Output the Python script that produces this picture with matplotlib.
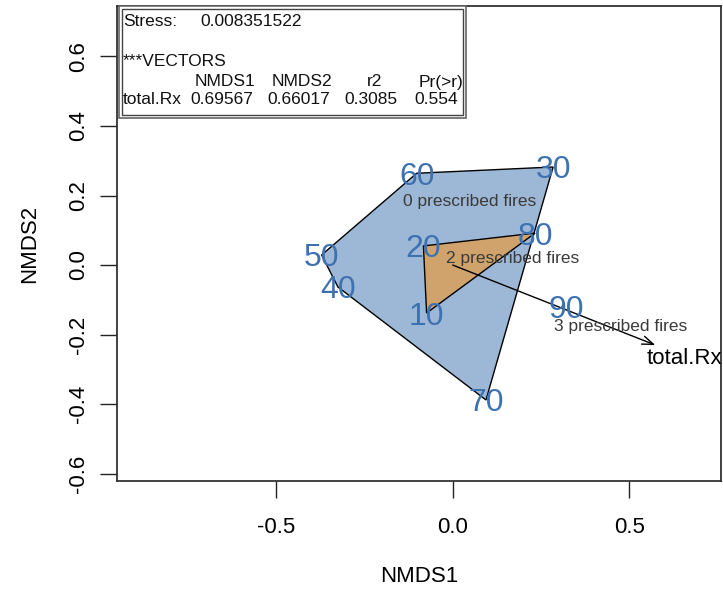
import numpy as np
import matplotlib.pyplot as plt
from matplotlib.patches import Polygon, Rectangle

plt.rcParams['font.family'] = ['Liberation Sans', 'DejaVu Sans']

# NMDS site scores
sites = ['10', '20', '30', '40', '50', '60', '70', '80', '90']
nmds1 = [-0.074, -0.083, 0.284, -0.325, -0.371, -0.102, 0.094, 0.233, 0.321]
nmds2 = [-0.138, 0.055, 0.282, -0.063, 0.029, 0.264, -0.388, 0.092, -0.118]
fires = [2, 2, 0, 0, 0, 0, 0, 2, 3]

# group label positions
group_names = ['0 prescribed fires', '2 prescribed fires', '3 prescribed fires']
group_x = [0.047, 0.168, 0.474]
group_y = [0.182, 0.019, -0.177]

# fitted vector
vec_name = 'total.Rx'
vec_end = (0.573, -0.230)
vec_label = (0.655, -0.268)

stress = '0.008351522'
vec_cols = ['NMDS1', 'NMDS2', 'r2', 'Pr(>r)']
vec_vals = ['0.69567', '0.66017', '0.3085', '0.554']


def hull(pts):
    pts = sorted(set(pts))
    if len(pts) < 3:
        return pts
    def cross(o, a, b):
        return (a[0] - o[0]) * (b[1] - o[1]) - (a[1] - o[1]) * (b[0] - o[0])
    lower, upper = [], []
    for p in pts:
        while len(lower) >= 2 and cross(lower[-2], lower[-1], p) <= 0:
            lower.pop()
        lower.append(p)
    for p in reversed(pts):
        while len(upper) >= 2 and cross(upper[-2], upper[-1], p) <= 0:
            upper.pop()
        upper.append(p)
    return lower[:-1] + upper[:-1]


W, H = 723, 593
fig = plt.figure(figsize=(W / 100, H / 100), dpi=100)
ax = fig.add_axes([117 / W, (H - 481) / H, 604 / W, 475 / H])
ax.set_xlim(-0.950, 0.759)
ax.set_ylim(-0.621, 0.745)

x = np.array(nmds1)
y = np.array(nmds2)
g = np.array(fires)

hull_cols = {0: '#9DB8D6', 2: '#CFA36B'}
for grp, col in hull_cols.items():
    pts = list(zip(x[g == grp], y[g == grp]))
    ax.add_patch(Polygon(hull(pts), closed=True, facecolor=col,
                         edgecolor='black', lw=1.0, zorder=1))

ax.annotate('', xy=vec_end, xytext=(0, 0),
            arrowprops=dict(arrowstyle='->,head_length=0.8,head_width=0.3',
                            color='black', lw=1.0, shrinkA=0, shrinkB=0),
            zorder=2)
ax.text(vec_label[0], vec_label[1], vec_name, fontsize=16, ha='center',
        va='center', color='black', clip_on=True, zorder=3)

for name, gx, gy in zip(group_names, group_x, group_y):
    ax.text(gx, gy, name, fontsize=12.5, ha='center', va='center',
            color='#3a3a3a', zorder=3)

for s, xi, yi in zip(sites, x, y):
    ax.text(xi, yi, s, fontsize=23, ha='center', va='center_baseline',
            color='#3D71B0', zorder=4)

ax.set_xticks([-0.5, 0.0, 0.5])
ax.set_xticklabels(['-0.5', '0.0', '0.5'])
ax.set_yticks([-0.6, -0.4, -0.2, 0.0, 0.2, 0.4, 0.6])
ax.set_yticklabels(['-0.6', '-0.4', '-0.2', '0.0', '0.2', '0.4', '0.6'],
                   rotation=90, va='center')
ax.tick_params(axis='both', labelsize=16, length=12, width=1.0,
               color='#222222', pad=8)
ax.tick_params(axis='x', pad=14)
for sp in ax.spines.values():
    sp.set_linewidth(1.3)
    sp.set_color('#333333')
ax.set_xlabel('NMDS1', fontsize=16, labelpad=20)
ax.set_ylabel('NMDS2', fontsize=16, labelpad=20)


# stats box, in figure pixels
def fx(px):
    return px / W


def fy(py):
    return 1 - py / H


tr = fig.transFigure
fig.add_artist(Rectangle((fx(119), fy(118)), fx(466) - fx(119), fy(6) - fy(118),
                         transform=tr, fill=True, facecolor='white',
                         edgecolor='#666666', lw=1.2, zorder=5))
fig.add_artist(Rectangle((fx(122), fy(115)), fx(463) - fx(122), fy(9) - fy(115),
                         transform=tr, fill=False, edgecolor='#444444',
                         lw=1.0, zorder=6))
kw = dict(transform=tr, fontsize=12.5, va='center', color='#111111', zorder=7)
fig.text(fx(123), fy(22), 'Stress:', ha='left', **kw)
fig.text(fx(200), fy(22), stress, ha='left', **kw)
fig.text(fx(123), fy(62), '***VECTORS', ha='left', **kw)
for lab, rx in zip(vec_cols, [255, 332, 382, 463]):
    fig.text(fx(rx), fy(82), lab, ha='right', **kw)
fig.text(fx(123), fy(99), vec_name, ha='left', **kw)
for val, rx in zip(vec_vals, [253, 330, 397, 458]):
    fig.text(fx(rx), fy(99), val, ha='right', **kw)

fig.savefig('out.png', dpi=100)
